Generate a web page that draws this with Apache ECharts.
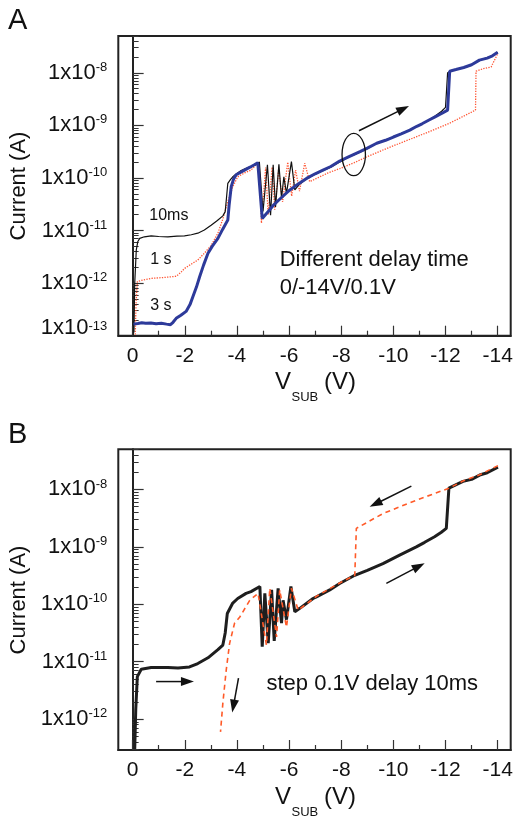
<!DOCTYPE html>
<html><head><meta charset="utf-8">
<script src="https://cdn.jsdelivr.net/npm/echarts@6/dist/echarts.min.js"></script>
<style>html,body{margin:0;padding:0;background:#fff}#c{width:515px;height:822px}</style>
</head><body><div id="c"></div>
<script>
const FONT = "'Liberation Sans', Arial, Helvetica, sans-serif";

// ---------- Panel A : [V_SUB (V), Current (A)] ----------
const a10ms = [[-0.05,1.15e-13],[-0.08,1.0e-12],[-0.14,4.27e-12],[-0.2,6.2e-12],[-0.27,7.08e-12],[-0.45,7.6e-12],[-0.71,7.94e-12],[-1.0,7.7e-12],[-1.35,7.59e-12],[-1.7,7.8e-12],[-1.99,7.94e-12],[-2.25,8.3e-12],[-2.5,8.9e-12],[-2.75,1.02e-11],[-3.01,1.26e-11],[-3.25,1.55e-11],[-3.46,1.9e-11],[-3.55,2.29e-11],[-3.6,4.2e-11],[-3.65,7.9e-11],[-3.75,9.3e-11],[-3.84,1.05e-10],[-4.0,1.22e-10],[-4.16,1.38e-10],[-4.35,1.52e-10],[-4.54,1.62e-10],[-4.74,1.82e-10],[-4.86,2.0e-10],[-5.0,2.3e-11],[-5.17,1.78e-10],[-5.29,1.95e-11],[-5.39,1.78e-10],[-5.48,2.8e-11],[-5.61,1.82e-10],[-5.71,4.1e-11],[-5.80,1.05e-10],[-5.90,5.1e-11],[-6.09,2.04e-10],[-6.22,5.9e-11],[-6.4,7.6e-11],[-6.67,9.6e-11],[-7.0,1.18e-10],[-7.3,1.38e-10],[-7.6,1.6e-10],[-7.94,2.0e-10],[-8.3,2.5e-10],[-8.72,3.1e-10],[-9.0,3.6e-10],[-9.36,4.5e-10],[-9.7,5.3e-10],[-10.0,6.0e-10],[-10.3,7.0e-10],[-10.63,8.1e-10],[-11.0,1.02e-9],[-11.3,1.2e-9],[-11.6,1.5e-9],[-11.85,1.85e-9],[-12.0,2.2e-9],[-12.08,1.0e-8],[-12.3,1.12e-8],[-12.7,1.25e-8],[-13.0,1.4e-8],[-13.3,1.72e-8],[-13.6,1.95e-8],[-13.8,2.1e-8],[-14.0,2.45e-8]];
const a1s = [[-0.1,1.05e-13],[-0.13,4e-13],[-0.18,1.07e-12],[-0.4,1.15e-12],[-0.71,1.23e-12],[-1.2,1.28e-12],[-1.67,1.35e-12],[-1.85,1.6e-12],[-1.99,1.9e-12],[-2.25,2.3e-12],[-2.5,2.75e-12],[-2.75,3.7e-12],[-3.01,5.2e-12],[-3.27,8.9e-12],[-3.45,1.6e-11],[-3.65,3.55e-11],[-3.84,6.8e-11],[-4.03,1.05e-10],[-4.3,1.25e-10],[-4.54,1.41e-10],[-4.74,1.78e-10],[-4.85,1.9e-10],[-4.94,1.38e-11],[-5.1,1.58e-10],[-5.2,2.0e-11],[-5.35,1.6e-10],[-5.45,2.5e-11],[-5.6,1.45e-10],[-5.75,3.5e-11],[-5.95,2.0e-10],[-6.1,4.5e-11],[-6.25,1.41e-10],[-6.4,5.6e-11],[-6.6,1.9e-10],[-6.79,8.5e-11],[-7.18,1.05e-10],[-7.5,1.25e-10],[-7.95,1.51e-10],[-8.5,1.95e-10],[-8.97,2.5e-10],[-9.6,3.4e-10],[-10.25,4.57e-10],[-11.2,7.0e-10],[-12.16,1.1e-9],[-12.7,1.5e-9],[-13.15,1.95e-9],[-13.17,1.07e-8],[-13.45,1.2e-8],[-13.75,1.29e-8],[-14.0,2.3e-8]];
const a3s = [[-0.03,1.66e-13],[-0.2,1.7e-13],[-0.35,1.76e-13],[-0.5,1.72e-13],[-0.7,1.75e-13],[-0.9,1.69e-13],[-1.1,1.72e-13],[-1.3,1.66e-13],[-1.45,1.62e-13],[-1.55,1.8e-13],[-1.67,2.14e-13],[-1.85,2.45e-13],[-2.05,2.9e-13],[-2.2,3.9e-13],[-2.31,5.5e-13],[-2.45,8.5e-13],[-2.57,1.32e-12],[-2.72,2.2e-12],[-2.89,3.7e-12],[-3.05,5.0e-12],[-3.27,7.1e-12],[-3.45,1.05e-11],[-3.65,1.58e-11],[-3.7,3.0e-11],[-3.78,6.8e-11],[-3.87,9.5e-11],[-3.97,1.15e-10],[-4.29,1.41e-10],[-4.5,1.6e-10],[-4.67,1.78e-10],[-4.8,1.95e-10],[-4.97,1.7e-11],[-5.2,2.3e-11],[-5.39,3.0e-11],[-5.7,4.2e-11],[-6.03,5.9e-11],[-6.35,7.7e-11],[-6.67,9.8e-11],[-7.0,1.2e-10],[-7.30,1.41e-10],[-7.6,1.65e-10],[-7.94,2.1e-10],[-8.3,2.55e-10],[-8.72,3.16e-10],[-9.0,3.7e-10],[-9.36,4.57e-10],[-9.7,5.2e-10],[-10.0,6.0e-10],[-10.3,6.9e-10],[-10.63,8.1e-10],[-10.9,9.6e-10],[-11.1,1.07e-9],[-11.35,1.25e-9],[-11.6,1.45e-9],[-11.85,1.68e-9],[-12.08,1.95e-9],[-12.16,1.07e-8],[-12.4,1.15e-8],[-12.7,1.26e-8],[-13.0,1.42e-8],[-13.3,1.74e-8],[-13.6,1.9e-8],[-13.8,2.1e-8],[-14.0,2.45e-8]];

// ---------- Panel B ----------
const bForward = [[-0.08,3.0e-13],[-0.12,1.5e-12],[-0.18,5.5e-12],[-0.33,7.4e-12],[-0.71,7.9e-12],[-1.35,7.9e-12],[-1.74,7.8e-12],[-2.18,8.1e-12],[-2.5,9.3e-12],[-2.89,1.17e-11],[-3.27,1.62e-11],[-3.46,1.95e-11],[-3.55,3.16e-11],[-3.63,6.9e-11],[-3.84,1.05e-10],[-4.03,1.26e-10],[-4.35,1.55e-10],[-4.54,1.66e-10],[-4.88,2.04e-10],[-4.97,1.82e-11],[-5.07,1.55e-10],[-5.20,2.1e-11],[-5.33,1.78e-10],[-5.43,2.3e-11],[-5.58,1.9e-10],[-5.71,4.7e-11],[-5.77,1.17e-10],[-5.90,5.4e-11],[-6.07,2.04e-10],[-6.22,7.4e-11],[-6.41,8.5e-11],[-6.92,1.26e-10],[-7.05,1.35e-10],[-7.56,1.78e-10],[-7.94,2.3e-10],[-8.52,3.2e-10],[-9.0,3.9e-10],[-9.6,5.1e-10],[-10.24,7.2e-10],[-10.88,1.0e-9],[-11.2,1.2e-9],[-11.58,1.5e-9],[-11.84,1.8e-9],[-12.03,2.1e-9],[-12.13,1.05e-8],[-12.67,1.38e-8],[-13.0,1.5e-8],[-13.31,1.78e-8],[-13.6,1.95e-8],[-14.01,2.45e-8]];
const bReverse = [[-14.01,2.6e-8],[-13.31,1.8e-8],[-12.67,1.4e-8],[-12.13,1.05e-8],[-10.88,6.5e-9],[-9.6,3.8e-9],[-8.58,2.1e-9],[-8.52,3.2e-10],[-7.94,2.35e-10],[-7.05,1.38e-10],[-6.35,7.9e-11],[-6.09,1.9e-10],[-5.9,4.0e-11],[-5.64,1.78e-10],[-5.52,2.7e-11],[-5.26,1.9e-10],[-5.13,1.95e-11],[-4.81,1.55e-10],[-4.49,1.17e-10],[-4.11,6.0e-11],[-3.91,4.7e-11],[-3.72,2.1e-11],[-3.59,7.2e-12],[-3.46,1.9e-12],[-3.37,6.0e-13]];

// ---------- Axes ----------
const xMajorTicks = [0,-2,-4,-6,-8,-10,-12,-14];
const xMinorTicks = [-1,-3,-5,-7,-9,-11,-13];
const yDecadesA = [1e-12,1e-11,1e-10,1e-9,1e-8];
const yBottomLabelA = [1e-13];
const yDecadesB = [1e-12,1e-11,1e-10,1e-9,1e-8];
const yMinor = [];
for (let e = -14; e <= -8; e++) for (let m = 2; m <= 9; m++) yMinor.push(+(m + 'e' + e));

const X_MIN = -14.5, X_MAX = 0.55;
const YA = [1e-13, 5e-8], YB = [2.9e-13, 5e-8];

const chart = echarts.init(document.getElementById('c'), null, {renderer:'canvas'});

function expLabel(v){ return '{b|1x10}{s|' + Math.round(Math.log10(v)) + '}'; }
const richMain = {
  b:{fontSize:22, fontFamily:FONT, color:'#111', lineHeight:24},
  s:{fontSize:13, fontFamily:FONT, color:'#111', lineHeight:11, verticalAlign:'top'}
};
const richLow = {
  b:{fontSize:22, fontFamily:FONT, color:'#111', lineHeight:16},
  s:{fontSize:13, fontFamily:FONT, color:'#111', lineHeight:6, verticalAlign:'top'}
};

function xAxes(grid){
  return [
    {type:'value', gridIndex:grid, min:X_MIN, max:X_MAX, inverse:true, position:'bottom',
     splitLine:{show:false}, axisLine:{show:true, lineStyle:{color:'#222', width:2}},
     axisTick:{show:true, inside:true, length:10, customValues:xMajorTicks, lineStyle:{color:'#333', width:1.2}},
     axisLabel:{show:true, customValues:xMajorTicks, margin:10, fontSize:21, fontFamily:FONT, color:'#111',
       formatter:v=>String(v)}},
    {type:'value', gridIndex:grid, min:X_MIN, max:X_MAX, inverse:true, position:'bottom',
     splitLine:{show:false}, axisLine:{show:false},
     axisTick:{show:true, inside:true, length:5, customValues:xMinorTicks, lineStyle:{color:'#333', width:1.2}},
     axisLabel:{show:false}}
  ];
}
function yAxesFor(grid, range, decades){
  return [
    {type:'log', logBase:10, gridIndex:grid, min:range[0], max:range[1], position:'left',
     splitLine:{show:false}, axisLine:{show:true, lineStyle:{color:'#222', width:2}},
     axisTick:{show:true, inside:true, length:11, customValues:decades, lineStyle:{color:'#333', width:1.2}},
     axisLabel:{show:true, customValues:decades, margin:11, formatter:expLabel, rich:richMain}},
    {type:'log', logBase:10, gridIndex:grid, min:range[0], max:range[1], position:'left',
     splitLine:{show:false}, axisLine:{show:false},
     axisTick:{show:true, inside:true, length:6, customValues:yMinor, lineStyle:{color:'#333', width:1}},
     axisLabel:{show:false}}
  ];
}

const yA = yAxesFor(0, YA, yDecadesA);
const yLow = {type:'log', logBase:10, gridIndex:0, min:YA[0], max:YA[1], position:'left',
  splitLine:{show:false}, axisLine:{show:false}, axisTick:{show:false},
  axisLabel:{show:true, customValues:yBottomLabelA, margin:11, verticalAlign:'bottom', formatter:expLabel, rich:richLow}};
const yB = yAxesFor(1, YB, yDecadesB);

function line(xi, yi, data, style, z){
  return {type:'line', xAxisIndex:xi, yAxisIndex:yi, data:data, showSymbol:false, symbol:'none',
    lineStyle:style, z:z, clip:true, animation:false};
}

chart.setOption({
  animation:false,
  backgroundColor:'#fff',
  grid:[
    {left:118.3, right:4.3, top:36, height:299.7, show:true, borderColor:'#222', borderWidth:2, backgroundColor:'transparent', outerBoundsMode:'none', containLabel:false},
    {left:118.3, right:4.3, top:449.3, height:300.7, show:true, borderColor:'#222', borderWidth:2, backgroundColor:'transparent', outerBoundsMode:'none', containLabel:false}
  ],
  xAxis: xAxes(0).concat(xAxes(1)),
  yAxis: [yA[0], yA[1], yLow, yB[0], yB[1]],
  series:[
    line(0,0,a1s,{color:'#ff5533', width:1.3, type:'dotted'},2),
    line(0,0,a10ms,{color:'#111', width:1.2},3),
    line(0,0,a3s,{color:'#2d3a9a', width:3},4),
    line(2,3,bForward,{color:'#1e1e1e', width:3},3),
    line(2,3,bReverse,{color:'#ff5a28', width:1.6, type:[5,4]},4)
  ]
});

// ---------- Annotations (positions in data units) ----------
const annA = {
  arrow:[[-8.68,7.9e-10],[-10.60,2.33e-9]],
  ellipse:[-8.48,2.79e-10],
  labels:[['10ms',[-1.39,1.89e-11]],['1 s',[-1.08,2.85e-12]],['3 s',[-1.08,3.8e-13]]],
  note1:['Different delay time',[-5.64,2.81e-12]],
  note2:['0/-14V/0.1V',[-5.64,8.24e-13]]
};
const annB = {
  arrows:[
    [[-10.69,1.14e-8],[-9.09,4.97e-9]],
    [[-9.73,2.32e-10],[-11.2,5.16e-10]],
    [[-0.90,4.51e-12],[-2.35,4.51e-12]],
    [[-4.06,5.16e-12],[-3.82,1.30e-12]]
  ],
  note:['step 0.1V delay 10ms',[-5.134,4.06e-12]]
};
const pA = p => chart.convertToPixel({xAxisIndex:0, yAxisIndex:0}, p);
const pB = p => chart.convertToPixel({xAxisIndex:2, yAxisIndex:3}, p);

function arrow(p1, p2){
  const dx=p2[0]-p1[0], dy=p2[1]-p1[1], L=Math.hypot(dx,dy), ux=dx/L, uy=dy/L;
  const hl=13, hw=9;
  const bx=p2[0]-ux*hl, by=p2[1]-uy*hl, nx=-uy, ny=ux;
  return [
    {type:'line', shape:{x1:p1[0],y1:p1[1],x2:bx+ux*2,y2:by+uy*2}, style:{stroke:'#111', lineWidth:1.5}, z:10},
    {type:'polygon', shape:{points:[[p2[0],p2[1]],[bx+nx*hw/2,by+ny*hw/2],[bx-nx*hw/2,by-ny*hw/2]]}, style:{fill:'#111'}, z:10}
  ];
}
function txt(s, p, size, align){
  return {type:'text', x:p[0], y:p[1], z:10, style:{text:s, fontSize:size, fontFamily:FONT, fill:'#111', align:align||'center', verticalAlign:'middle'}};
}

const g = [];
g.push(...arrow(pA(annA.arrow[0]), pA(annA.arrow[1])));
const ec = pA(annA.ellipse);
g.push({type:'ellipse', shape:{cx:ec[0], cy:ec[1], rx:11.7, ry:21.2}, style:{stroke:'#111', fill:null, lineWidth:1.3}, z:10});
annA.labels.forEach(l => g.push(txt(l[0], pA(l[1]), 16)));
g.push(txt(annA.note1[0], pA(annA.note1[1]), 22, 'left'));
g.push(txt(annA.note2[0], pA(annA.note2[1]), 22, 'left'));
annB.arrows.forEach(a => g.push(...arrow(pB(a[0]), pB(a[1]))));
g.push(txt(annB.note[0], pB(annB.note[1]), 22, 'left'));

// panel letters and axis titles
g.push({type:'text', x:8, y:20.5, style:{text:'A', fontSize:29, fontFamily:FONT, fill:'#111', align:'left', verticalAlign:'middle'}});
g.push({type:'text', x:8, y:435, style:{text:'B', fontSize:29, fontFamily:FONT, fill:'#111', align:'left', verticalAlign:'middle'}});
[186, 600].forEach(cy => g.push({type:'text', x:19, y:cy, rotation:Math.PI/2,
  style:{text:'Current (A)', fontSize:22, fontFamily:FONT, fill:'#111', align:'center', verticalAlign:'middle'}}));
[382.7, 797].forEach(cy => {
  g.push({type:'text', x:275, y:cy, style:{text:'V', fontSize:24, fontFamily:FONT, fill:'#111', align:'left', verticalAlign:'middle'}});
  g.push({type:'text', x:291.5, y:cy+15, style:{text:'SUB', fontSize:13, fontFamily:FONT, fill:'#111', align:'left', verticalAlign:'middle'}});
  g.push({type:'text', x:324, y:cy, style:{text:'(V)', fontSize:24, fontFamily:FONT, fill:'#111', align:'left', verticalAlign:'middle'}});
});
chart.setOption({graphic:g});
</script></body></html>
